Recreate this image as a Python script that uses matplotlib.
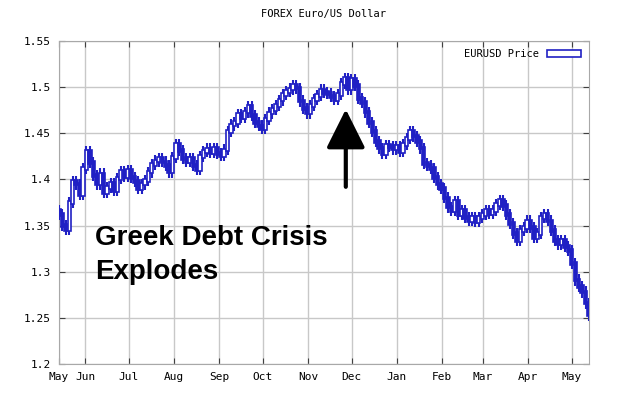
import numpy as np
import pandas as pd
import matplotlib
matplotlib.use('Agg')
import matplotlib.pyplot as plt
import matplotlib.dates as mdates
from matplotlib.patches import Patch

"""
EUR/USD candles, May 2009 - May 2010
"""

# closing prices, evenly spaced in time
closes = [
    1.362, 1.350, 1.346, 1.375, 1.398, 1.395, 1.384, 1.412, 1.430, 1.418,
    1.404, 1.395, 1.406, 1.386, 1.391, 1.396, 1.388, 1.401, 1.409, 1.403,
    1.410, 1.402, 1.398, 1.390, 1.395, 1.399, 1.408, 1.416, 1.420, 1.423,
    1.419, 1.415, 1.408, 1.424, 1.438, 1.431, 1.423, 1.419, 1.423, 1.415,
    1.411, 1.425, 1.430, 1.433, 1.429, 1.434, 1.428, 1.426, 1.432, 1.452,
    1.459, 1.462, 1.470, 1.467, 1.473, 1.479, 1.469, 1.462, 1.458, 1.455,
    1.465, 1.472, 1.476, 1.480, 1.486, 1.492, 1.495, 1.498, 1.502, 1.499,
    1.485, 1.477, 1.472, 1.480, 1.487, 1.491, 1.497, 1.494, 1.493, 1.490,
    1.487, 1.492, 1.504, 1.509, 1.498, 1.508, 1.502, 1.488, 1.483, 1.473,
    1.462, 1.452, 1.441, 1.434, 1.428, 1.437, 1.436, 1.433, 1.436, 1.430,
    1.438, 1.444, 1.452, 1.447, 1.441, 1.434, 1.417, 1.415, 1.412, 1.402,
    1.395, 1.390, 1.380, 1.370, 1.366, 1.376, 1.362, 1.366, 1.359, 1.355,
    1.359, 1.354, 1.359, 1.362, 1.366, 1.363, 1.366, 1.373, 1.377, 1.372,
    1.362, 1.352, 1.341, 1.334, 1.345, 1.348, 1.355, 1.348, 1.337, 1.341,
    1.359, 1.362, 1.355, 1.345, 1.334, 1.330, 1.334, 1.327, 1.323, 1.309,
    1.291, 1.284, 1.278, 1.266, 1.253,
]
start, end = '2009-05-14', '2010-05-13'
month_labels = ['May', 'Jun', 'Jul', 'Aug', 'Sep', 'Oct', 'Nov', 'Dec',
                'Jan', 'Feb', 'Mar', 'Apr', 'May']
yticks = [1.2, 1.25, 1.3, 1.35, 1.4, 1.45, 1.5, 1.55]

blue = '#2020c4'
mono = 'DejaVu Sans Mono'

dates = pd.date_range(start, end, periods=len(closes))
x = mdates.date2num(dates)
c = np.array(closes)
o = np.concatenate([[c[0] + 0.004], c[:-1]])
step = x[1] - x[0]
w = step * 0.95
pad = 0.006

fig = plt.figure(figsize=(6.2, 4.0), dpi=100)
ax = fig.add_axes([0.095, 0.09, 0.855, 0.8075])

for xi, oi, ci in zip(x, o, c):
    lo, hi = min(oi, ci), max(oi, ci)
    ax.vlines(xi, lo - pad, hi + pad, color=blue, lw=1.5, zorder=3)
    up = ci > oi
    ax.add_patch(plt.Rectangle((xi - w / 2, lo - 0.0015), w,
                               hi - lo + 0.003,
                               facecolor='white' if up else blue,
                               edgecolor=blue, lw=1.2, zorder=4))

xmin, xmax = mdates.datestr2num(start), mdates.datestr2num(end)
ax.set_xlim(xmin, xmax)
ax.set_ylim(1.2, 1.55)

month_starts = pd.date_range('2009-06-01', '2010-05-01', freq='MS')
xt = [xmin] + list(mdates.date2num(month_starts))
ax.set_xticks(xt)
ax.set_xticklabels(month_labels, family=mono, fontsize=8)
ax.set_yticks(yticks)
ax.set_yticklabels(['%g' % v for v in yticks], family=mono, fontsize=8)

ax.grid(True, color='#c8c8c8', lw=1.0, zorder=0)
for s in ax.spines.values():
    s.set_color('#a8a8a8')
ax.tick_params(direction='in', top=True, right=True, length=4,
               color='#404040', pad=6)

ax.set_title('FOREX Euro/US Dollar', family=mono, fontsize=7.5, pad=17)

leg = ax.legend(handles=[Patch(facecolor='white', edgecolor=blue, lw=1.2,
                               label='EURUSD Price')],
                loc='upper right', frameon=False, markerfirst=False,
                prop={'family': mono, 'size': 7.5}, handlelength=3.2,
                handleheight=0.6, borderaxespad=0.4)

# annotation
ax.text(0.068, 0.368, 'Greek Debt Crisis', transform=ax.transAxes,
        family='Liberation Sans', weight='bold', fontsize=20, zorder=6)
ax.text(0.068, 0.263, 'Explodes', transform=ax.transAxes,
        family='Liberation Sans', weight='bold', fontsize=20, zorder=6)
ax_x = mdates.datestr2num('2009-11-27')
ax.annotate('', xy=(ax_x, 1.476), xytext=(ax_x, 1.392),
            arrowprops=dict(arrowstyle='-|>,head_length=1.2,head_width=0.6',
                            mutation_scale=20, lw=3, color='black',
                            shrinkA=0, shrinkB=0), zorder=6)

fig.savefig('out.png', dpi=100)
